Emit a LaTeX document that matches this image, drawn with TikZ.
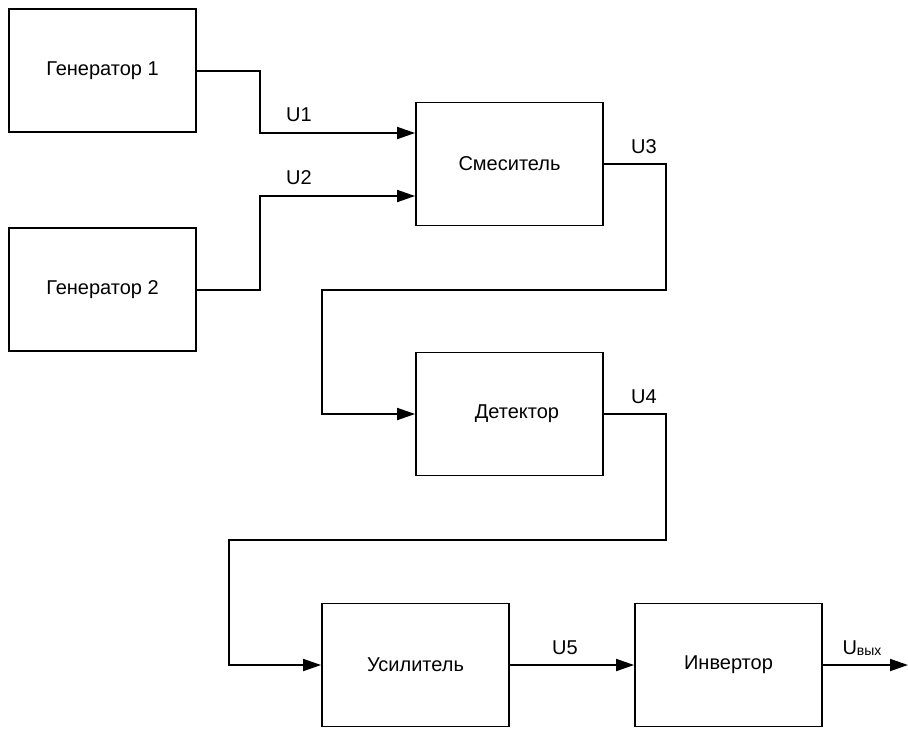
\documentclass[tikz,border=0pt]{standalone}
\usepackage{fontspec}
\setmainfont{Liberation Sans}
\usetikzlibrary{arrows.meta}
\begin{document}
\begin{tikzpicture}[x=1pt,y=-1pt,
  blk/.style={draw,line width=1.8pt,minimum width=187pt,minimum height=123pt,inner sep=0pt,font=\fontsize{20}{24}\selectfont},
  wire/.style={line width=1.8pt,-{Triangle[length=18pt,width=12pt]}},
  lbl/.style={font=\fontsize{20}{24}\selectfont,inner sep=0pt}]
\useasboundingbox (0,0) rectangle (908,729);
\node[blk] (g1) at (102.5,70.5) {Генератор 1};
\node[blk] (g2) at (102.5,289.5) {Генератор 2};
\node[blk] (mix) at (509.5,164) {Смеситель};
\node[blk] (det) at (509.5,414) {};
\node[lbl] (dett) at (517,414) {Детектор};
\node[blk] (amp) at (415.5,665) {Усилитель};
\node[blk] (inv) at (728.5,665) {Инвертор};
\coordinate (out) at (908,665);
\draw[wire] (g1.east |- 0,71) -| (260,133) -- (mix.west |- 0,133);
\draw[wire] (g2.east |- 0,290) -| (260,196) -- (mix.west |- 0,196);
\draw[wire] (mix.east) -| (666,290) -| (322,414) -- (det.west);
\draw[wire] (det.east) -| (666,540) -| (229,665) -- (amp.west);
\draw[wire] (amp.east) -- (inv.west);
\draw[wire] (inv.east) -- (out);
\node[lbl] (u1) at (299,115) {U1};
\node[lbl] (u2) at (299,178) {U2};
\node[lbl] (u3) at (644,147) {U3};
\node[lbl] (u4) at (644,397) {U4};
\node[lbl] (u5) at (565,648) {U5};
\node[lbl] (uo) at (862,648) {U\raisebox{-1.5pt}{\fontsize{14}{16}\selectfont вых}};
\end{tikzpicture}
\end{document}
